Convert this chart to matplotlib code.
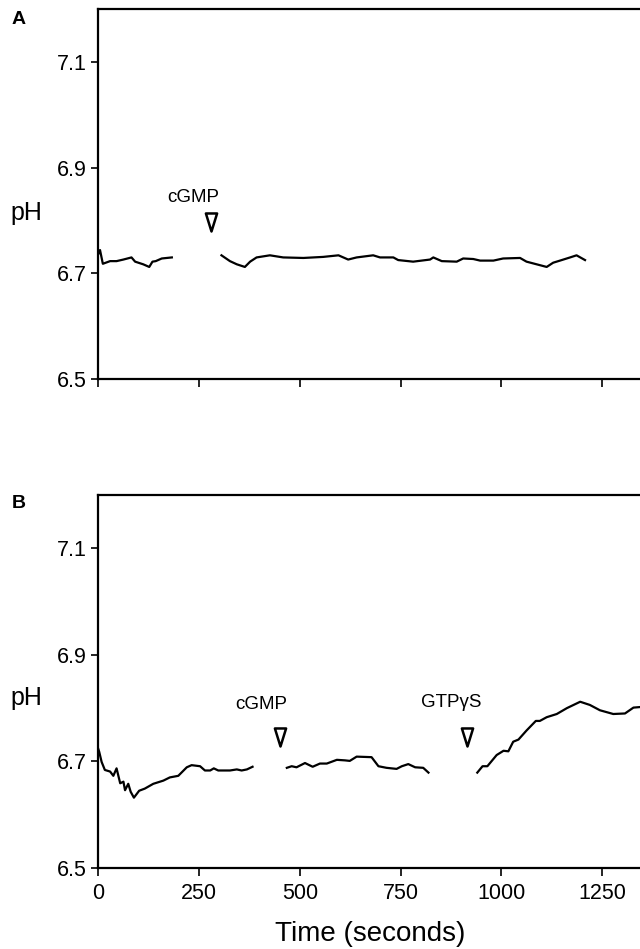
import matplotlib
matplotlib.use("Agg")
import matplotlib.pyplot as plt
import numpy as np
from matplotlib.path import Path

plt.rcParams['font.family'] = ['Liberation Sans', 'DejaVu Sans']

# ---- Panel A data (time in s, pH) ----
a1_t = [0, 5, 12, 30, 46, 63, 83, 92, 112, 127, 135, 143, 158, 183]
a1_ph = [6.735, 6.744, 6.718, 6.723, 6.723, 6.726, 6.730, 6.722, 6.717, 6.712, 6.722, 6.723, 6.728, 6.730]
a2_t = [306, 327, 344, 364, 377, 393, 426, 459, 509, 558, 596, 620, 641, 682, 699, 732, 744, 781,
        823, 831, 852, 889, 905, 930, 947, 980, 1004, 1046, 1062, 1087, 1112, 1128, 1145, 1170, 1186, 1207]
a2_ph = [6.734, 6.723, 6.717, 6.712, 6.722, 6.730, 6.734, 6.730, 6.729, 6.731, 6.734, 6.726, 6.730, 6.734,
         6.730, 6.730, 6.725, 6.722, 6.726, 6.730, 6.723, 6.722, 6.728, 6.727, 6.724, 6.724, 6.728, 6.729,
         6.722, 6.717, 6.712, 6.720, 6.724, 6.730, 6.734, 6.725]

# ---- Panel B data ----
b1_t = [0, 3, 9, 17, 30, 38, 46, 55, 63, 67, 75, 81, 89, 102, 116, 137, 162, 178, 199, 220, 232, 253,
        265, 278, 287, 298, 327, 344, 356, 369, 383]
b1_ph = [6.725, 6.718, 6.699, 6.684, 6.681, 6.673, 6.687, 6.659, 6.662, 6.646, 6.658, 6.643, 6.632, 6.645,
         6.649, 6.658, 6.664, 6.670, 6.673, 6.689, 6.693, 6.691, 6.683, 6.683, 6.687, 6.683, 6.683, 6.685,
         6.683, 6.685, 6.690]
b2_t = [468, 480, 492, 513, 532, 550, 567, 592, 612, 624, 641, 678, 695, 715, 740, 753, 769, 786, 806, 819]
b2_ph = [6.688, 6.691, 6.689, 6.697, 6.690, 6.696, 6.696, 6.703, 6.702, 6.701, 6.709, 6.708, 6.691, 6.688,
         6.686, 6.691, 6.695, 6.689, 6.688, 6.679]
b3_t = [940, 953, 965, 988, 1005, 1017, 1029, 1042, 1062, 1085, 1095, 1112, 1137, 1162, 1195, 1219, 1244,
        1277, 1306, 1327, 1343, 1370]
b3_ph = [6.679, 6.691, 6.691, 6.712, 6.720, 6.719, 6.737, 6.741, 6.758, 6.776, 6.776, 6.783, 6.789, 6.800,
         6.812, 6.806, 6.796, 6.789, 6.790, 6.801, 6.802, 6.802]

yticks = [6.5, 6.7, 6.9, 7.1]
ytick_labels = ["6.5", "6.7", "6.9", "7.1"]
xticks = [0, 250, 500, 750, 1000, 1250]
xtick_labels = ["0", "250", "500", "750", "1000", "1250"]

# annotations: (label, label_t, label_ph, marker_t, marker_ph)
ann_a = [("cGMP", 236, 6.843, 280, 6.797)]
ann_b = [("cGMP", 404, 6.806, 451, 6.746), ("GTP\u03b3S", 875, 6.810, 914, 6.746)]

W, H = 640, 949
fig = plt.figure(figsize=(W / 100, H / 100), dpi=100)

tri = Path([(-0.62, 1.0), (0.62, 1.0), (0.0, -1.0), (-0.62, 1.0)],
           [Path.MOVETO, Path.LINETO, Path.LINETO, Path.CLOSEPOLY])

def make_axes(top_px, bottom_px):
    left = 98 / W
    right = (98 + 1500 * 0.4035) / W
    b = (H - bottom_px) / H
    h = (bottom_px - top_px) / H
    ax = fig.add_axes([left, b, right - left, h])
    ax.set_xlim(0, 1500)
    ax.set_ylim(6.5, 7.2)
    for s in ['left', 'top', 'bottom']:
        ax.spines[s].set_linewidth(1.6)
    ax.spines['right'].set_visible(False)
    ax.set_yticks(yticks)
    ax.set_yticklabels(ytick_labels, fontsize=15.5)
    ax.set_xticks(xticks)
    ax.tick_params(axis='y', direction='out', length=5, width=1.2, pad=3)
    ax.tick_params(axis='x', direction='out', length=6, width=1.2, pad=5)
    return ax

axA = make_axes(9, 379)
axB = make_axes(495, 868)

lw = 1.6
axA.plot(a1_t, a1_ph, color='black', lw=lw, solid_joinstyle='round')
axA.plot(a2_t, a2_ph, color='black', lw=lw, solid_joinstyle='round')
axA.set_xticklabels([])

axB.plot(b1_t, b1_ph, color='black', lw=lw, solid_joinstyle='round')
axB.plot(b2_t, b2_ph, color='black', lw=lw, solid_joinstyle='round')
axB.plot(b3_t, b3_ph, color='black', lw=lw, solid_joinstyle='round')
axB.set_xticklabels(xtick_labels, fontsize=15.5)

for ax, anns in ((axA, ann_a), (axB, ann_b)):
    for lab, lt, lp, mt, mp in anns:
        ax.text(lt, lp, lab, fontsize=13.5, ha='center', va='center')
        ax.plot([mt], [mp], marker=tri, markersize=13, markerfacecolor='white',
                markeredgecolor='black', markeredgewidth=1.8, linestyle='none')

fig.text(19 / W, 1 - 19 / H, "A", fontsize=14, fontweight='bold', ha='center', va='center')
fig.text(19 / W, 1 - 504 / H, "B", fontsize=14, fontweight='bold', ha='center', va='center')
fig.text(26 / W, 1 - 213 / H, "pH", fontsize=18, ha='center', va='center')
fig.text(26 / W, 1 - 698 / H, "pH", fontsize=18, ha='center', va='center')
fig.text(370 / W, 1 - 934 / H, "Time (seconds)", fontsize=20, ha='center', va='center')

fig.savefig("out.png", dpi=100)
